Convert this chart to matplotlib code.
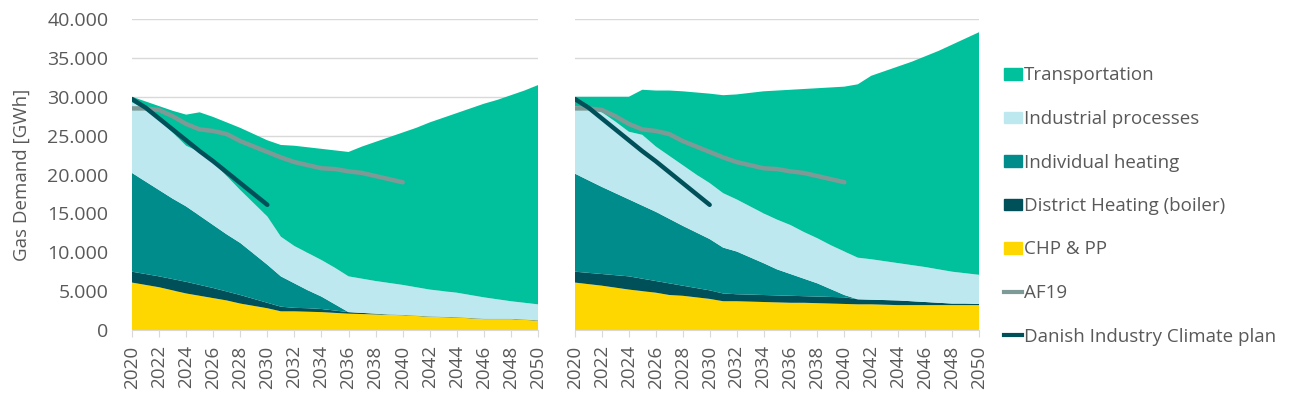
import matplotlib
matplotlib.use("Agg")
import matplotlib.pyplot as plt
import numpy as np
from matplotlib.patches import Patch
from matplotlib.lines import Line2D
from matplotlib.ticker import FuncFormatter

plt.rcParams['font.family'] = ['Open Sans', 'DejaVu Sans']

years = list(range(2020, 2051))
layer_names = ['CHP & PP', 'District Heating (boiler)', 'Individual heating',
               'Industrial processes', 'Transportation']
layer_colors = ['#FFD700', '#00505A', '#008C8A', '#BEE8F0', '#00C19C']

# --- left scenario, GWh per layer ---
left_chp = [6100, 5800, 5500, 5100, 4700, 4400, 4100, 3800, 3400, 3100, 2800, 2400, 2400, 2350, 2300, 2200,
            2100, 2050, 2000, 1950, 1900, 1800, 1700, 1650, 1600, 1500, 1400, 1400, 1400, 1300, 1200]
left_dh = [1400, 1400, 1400, 1450, 1500, 1400, 1300, 1150, 1100, 900, 700, 600, 450, 450, 400, 300,
           200, 150, 100, 50, 50, 50, 50, 50, 50, 50, 50, 50, 50, 50, 50]
left_ih = [12700, 11900, 11100, 10350, 9700, 8900, 8100, 7350, 6700, 5800, 4900, 3900, 3150, 2300, 1600, 800,
           0, 0, 0, 0, 0, 0, 0, 0, 0, 0, 0, 0, 0, 0, 0]
left_ind = [9100, 9200, 9000, 8500, 7800, 8200, 8000, 7500, 6800, 6500, 6200, 5100, 4800, 4800, 4700, 4700,
            4600, 4400, 4200, 4050, 3850, 3650, 3450, 3300, 3150, 2950, 2750, 2500, 2250, 2150, 2050]
left_trans = [700, 1100, 1800, 2800, 4000, 5100, 5900, 6900, 8000, 8900, 9800, 11800, 12900, 13600, 14300, 15100,
              16000, 17000, 17900, 18750, 19600, 20500, 21500, 22300, 23100, 24000, 24900, 25650, 26500, 27300, 28200]

# --- right scenario, GWh per layer ---
right_chp = [6100, 5900, 5700, 5450, 5200, 5000, 4800, 4500, 4400, 4200, 4000, 3700, 3700, 3650, 3600, 3550,
             3500, 3500, 3450, 3400, 3350, 3300, 3300, 3250, 3200, 3200, 3200, 3200, 3200, 3200, 3200]
right_dh = [1400, 1450, 1500, 1600, 1700, 1600, 1500, 1500, 1300, 1200, 1100, 1000, 900, 900, 900, 900,
            900, 850, 850, 850, 850, 650, 600, 600, 600, 500, 400, 300, 200, 200, 150]
right_ih = [12600, 11900, 11200, 10550, 9900, 9400, 8900, 8300, 7700, 7150, 6600, 5900, 5500, 4800, 4100, 3350,
            2800, 2250, 1700, 1000, 300, 0, 0, 0, 0, 0, 0, 0, 0, 0, 0]
right_ind = [8700, 9350, 9600, 9200, 8700, 9100, 8400, 8100, 7800, 7450, 7200, 7000, 6700, 6550, 6400, 6400,
             6300, 6000, 5800, 5650, 5600, 5350, 5200, 5000, 4800, 4650, 4500, 4300, 4100, 3900, 3750]
right_trans = [1200, 1400, 2000, 3200, 4500, 5800, 7200, 8400, 9500, 10550, 11500, 12600, 13500, 14600, 15700, 16600,
               17400, 18400, 19300, 20300, 21200, 22300, 23600, 24450, 25300, 26150, 27100, 28100, 29200, 30200, 31200]

# reference lines
af19_years = list(range(2020, 2041))
af19 = [28500, 28500, 28300, 27500, 26500, 25800, 25600, 25200, 24300, 23600, 22900,
        22200, 21600, 21200, 20800, 20700, 20400, 20200, 19800, 19400, 19000]
di_years = list(range(2020, 2031))
di_plan = [29700, 28600, 27200, 25800, 24400, 23000, 21700, 20300, 18900, 17500, 16100]

af19_color = '#7D9A96'
di_color = '#00505A'
text_color = '#595959'
grid_color = '#D9D9D9'

fig = plt.figure(figsize=(12.89, 3.93), dpi=100)
ax1 = fig.add_axes([132 / 1289, 1 - 330 / 393, 406 / 1289, 311 / 393])
ax2 = fig.add_axes([575 / 1289, 1 - 330 / 393, 404 / 1289, 311 / 393])

panels = [(ax1, [left_chp, left_dh, left_ih, left_ind, left_trans]),
          (ax2, [right_chp, right_dh, right_ih, right_ind, right_trans])]

for ax, layers in panels:
    ax.stackplot(years, *layers, colors=layer_colors, linewidth=0, zorder=2)
    ax.plot(af19_years, af19, color=af19_color, lw=3.2, solid_capstyle='round', zorder=3)
    ax.plot(di_years, di_plan, color=di_color, lw=3.2, solid_capstyle='round', zorder=4)
    ax.set_xlim(2020, 2050)
    ax.set_ylim(0, 40000)
    ax.set_yticks(range(0, 40001, 5000))
    ax.grid(axis='y', color=grid_color, lw=1, zorder=0)
    ax.set_axisbelow(True)
    ax.set_xticks(range(2020, 2051, 2))
    ax.tick_params(axis='x', rotation=90, labelsize=13.6, colors=text_color,
                   length=5, color=grid_color, pad=6)
    ax.tick_params(axis='y', length=0, labelsize=14, colors=text_color, pad=17)
    for s in ['top', 'right', 'left']:
        ax.spines[s].set_visible(False)
    ax.spines['bottom'].set_color(grid_color)

ax1.yaxis.set_major_formatter(FuncFormatter(lambda v, p: f"{v:,.0f}".replace(",", ".")))
ax1.set_ylabel('Gas Demand [GWh]', fontsize=13.5, color=text_color, labelpad=12)
ax2.tick_params(axis='y', labelleft=False)

handles = [Patch(color=c) for c in layer_colors[::-1]]
handles += [Line2D([], [], color=af19_color, lw=3), Line2D([], [], color=di_color, lw=3)]
labels = layer_names[::-1] + ['AF19', 'Danish Industry Climate plan']
leg = fig.legend(handles, labels, loc='upper left', bbox_to_anchor=(997 / 1289, 1 - 59 / 393),
                 frameon=False, fontsize=13.5, handlelength=0.95, handleheight=0.55,
                 handletextpad=0.1, labelspacing=1.36, borderaxespad=0)
for t in leg.get_texts():
    t.set_color(text_color)

fig.savefig('out.png', dpi=100)
